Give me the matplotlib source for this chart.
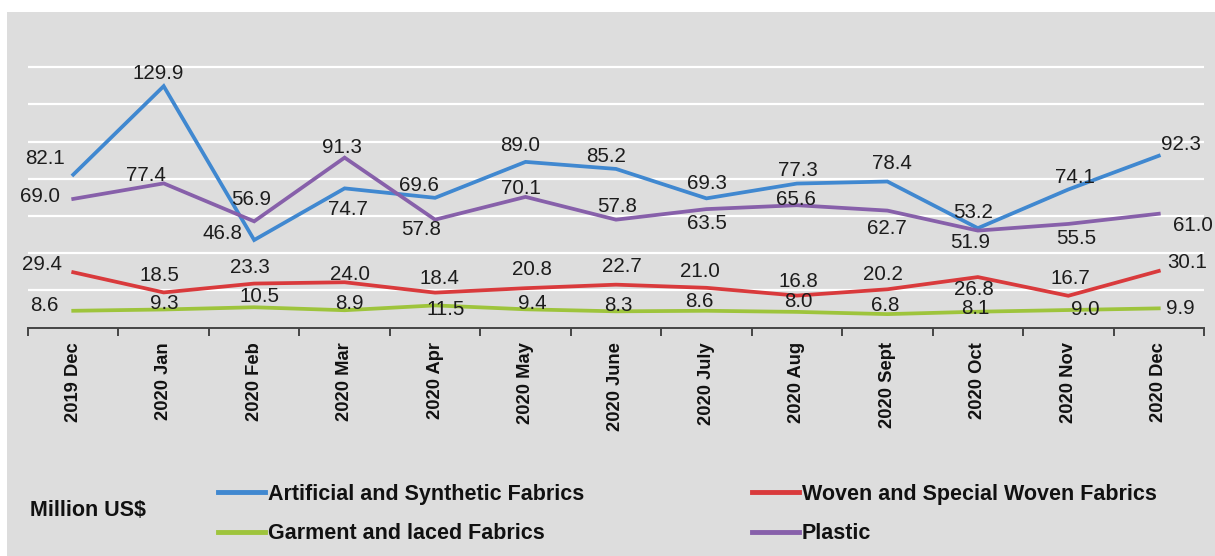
import matplotlib
matplotlib.use("Agg")
import matplotlib.pyplot as plt
from matplotlib.patches import Rectangle
from matplotlib.ticker import FixedLocator

plt.rcParams['font.family'] = ['Liberation Sans', 'DejaVu Sans']

# ---------------- data ----------------
months = ["2019 Dec", "2020 Jan", "2020 Feb", "2020 Mar", "2020 Apr", "2020 May",
          "2020 June", "2020 July", "2020 Aug", "2020 Sept", "2020 Oct", "2020 Nov", "2020 Dec"]
artificial = [82.1, 129.9, 46.8, 74.7, 69.6, 89.0, 85.2, 69.3, 77.3, 78.4, 53.2, 74.1, 92.3]
plastic = [69.0, 77.4, 56.9, 91.3, 57.8, 70.1, 57.8, 63.5, 65.6, 62.7, 51.9, 55.5, 61.0]
woven = [29.4, 18.5, 23.3, 24.0, 18.4, 20.8, 22.7, 21.0, 16.8, 20.2, 26.8, 16.7, 30.1]
garment = [8.6, 9.3, 10.5, 8.9, 11.5, 9.4, 8.3, 8.6, 8.0, 6.8, 8.1, 9.0, 9.9]

names = {
    'artificial': "Artificial and Synthetic Fabrics",
    'woven': "Woven and Special Woven Fabrics",
    'garment': "Garment and laced Fabrics",
    'plastic': "Plastic",
}
unit_label = "Million US$"

# ---------------- label offsets (pixels: right, down) ----------------
off_art = [(-28, -16), (-6, -13), (-32, -7), (3, 21), (-16, -12), (-5, -16), (-10, -12),
           (0, -15), (1, -13), (5, -18), (-5, -16), (7, -12), (22, -11)]
off_pla = [(-33, -2), (-18, -8), (-3, -22), (-3, -10), (-14, 10), (-5, -8), (1, -13),
           (0, 14), (-1, -6), (-1, 18), (-8, 12), (8, 15), (34, 12)]
off_wov = [(-31, -8), (-4, -17), (-4, -16), (5, -8), (4, -14), (6, -19), (6, -18),
           (-7, -16), (1, -14), (-4, -15), (-4, 12), (2, -17), (28, -8)]
off_gar = [(-29, -5), (1, -6), (5, -11), (5, -7), (11, 4), (7, -6), (2, -6),
           (-7, -9), (1, -10), (-2, -9), (-3, -3), (17, -1), (22, 0)]

c_blue = '#4088d0'
c_red = '#d93a3c'
c_green = '#9ec43c'
c_purple = '#8760aa'
txt_col = '#1c1c1c'

W, H = 1215, 556
fig = plt.figure(figsize=(W / 100, H / 100), dpi=100)
fig.patch.set_facecolor('white')
fig.patches.append(Rectangle((7 / W, 0), (W - 7) / W, (H - 12) / H, transform=fig.transFigure,
                             facecolor='#dddddd', edgecolor='none', zorder=-5))

# axes: x from 28 to 1204 px, y from 328 (bottom) to 48 (top)
ax = fig.add_axes([28 / W, (H - 328) / H, (1204 - 28) / W, (328 - 48) / H])
ax.set_facecolor('none')
ax.set_xlim(-0.5, len(months) - 0.5)
ax.set_ylim(-0.7, 150.5)

for v in range(20, 141, 20):
    ax.axhline(v, color='white', lw=1.6, zorder=1)

x = list(range(len(months)))
lw = 2.7
l_art, = ax.plot(x, artificial, color=c_blue, lw=lw, zorder=3, solid_joinstyle='miter')
l_pla, = ax.plot(x, plastic, color=c_purple, lw=lw, zorder=3, solid_joinstyle='miter')
l_wov, = ax.plot(x, woven, color=c_red, lw=lw, zorder=3, solid_joinstyle='miter')
l_gar, = ax.plot(x, garment, color=c_green, lw=lw, zorder=3, solid_joinstyle='miter')

for series, offs in ((artificial, off_art), (plastic, off_pla), (woven, off_wov), (garment, off_gar)):
    for i, (v, (dx, dy)) in enumerate(zip(series, offs)):
        ax.annotate(f"{v:.1f}", (i, v), xytext=(dx, -dy), textcoords='offset pixels',
                    ha='center', va='center', fontsize=14.8, color=txt_col, zorder=4)

for s in ('top', 'right', 'left'):
    ax.spines[s].set_visible(False)
ax.spines['bottom'].set_color('#444444')
ax.spines['bottom'].set_linewidth(1.4)
ax.set_yticks([])
ax.set_xticks(x)
ax.set_xticklabels(months, rotation=90, fontsize=13.2, fontweight='bold', color='#111111')
ax.tick_params(axis='x', which='major', length=0, pad=10)
ax.xaxis.set_minor_locator(FixedLocator([i - 0.5 for i in range(len(months) + 1)]))
ax.tick_params(axis='x', which='minor', length=6, width=1.4, color='#444444', direction='out')

# legend
leg_kw = dict(frameon=False, handlelength=2.2, handletextpad=0.1,
              labelspacing=0.85, borderpad=0, borderaxespad=0,
              prop={'weight': 'bold', 'size': 15.5})
leg1 = fig.legend([l_art, l_gar], [names['artificial'], names['garment']],
                  loc='upper left', bbox_to_anchor=(218 / W, 1 - 484 / H), **leg_kw)
leg2 = fig.legend([l_wov, l_pla], [names['woven'], names['plastic']],
                  loc='upper left', bbox_to_anchor=(752 / W, 1 - 484 / H), **leg_kw)
for lg in (leg1, leg2):
    for t in lg.get_texts():
        t.set_color('#111111')
    for h in lg.legend_handles:
        h.set_linewidth(3.5)

fig.text(30 / W, 1 - 510 / H, unit_label, ha='left', va='center', fontsize=15.5,
         fontweight='bold', color='#111111')

fig.savefig('out.png', dpi=100, facecolor=fig.get_facecolor())
